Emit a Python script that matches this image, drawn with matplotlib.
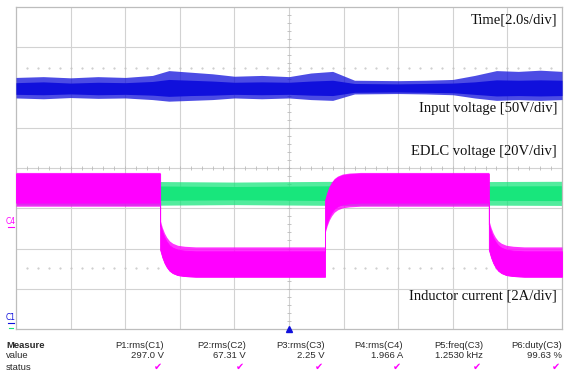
import numpy as np
import matplotlib.pyplot as plt

# screen is 10 x 8 divisions, 2.0 s/div
N_XDIV, N_YDIV = 10, 8

# input voltage (blue) band, in divisions
blue_x = [0, 0.5, 1, 1.5, 2, 2.5, 2.8, 3.2, 3.6, 4, 4.5, 5, 5.4, 5.8, 6.2, 7, 7.5, 8, 8.4, 8.8, 9.2, 9.6, 10]
blue_spike_hi = [6.25, 6.27, 6.24, 6.27, 6.25, 6.30, 6.42, 6.38, 6.34, 6.28, 6.30, 6.27, 6.36, 6.40, 6.18, 6.17, 6.18, 6.20, 6.30, 6.42, 6.40, 6.43, 6.40]
blue_core_hi = [6.12, 6.14, 6.11, 6.13, 6.12, 6.15, 6.20, 6.18, 6.16, 6.13, 6.14, 6.13, 6.16, 6.18, 6.10, 6.09, 6.10, 6.11, 6.14, 6.19, 6.18, 6.19, 6.18]
blue_core_lo = [5.83, 5.82, 5.84, 5.82, 5.83, 5.81, 5.78, 5.80, 5.81, 5.83, 5.82, 5.83, 5.81, 5.80, 5.88, 5.89, 5.88, 5.87, 5.83, 5.79, 5.80, 5.79, 5.80]
blue_spike_lo = [5.74, 5.72, 5.75, 5.73, 5.74, 5.70, 5.66, 5.68, 5.70, 5.74, 5.72, 5.74, 5.70, 5.68, 5.84, 5.85, 5.84, 5.82, 5.74, 5.68, 5.70, 5.68, 5.70]

# EDLC voltage (green) band
green_x = [0, 2, 4, 6, 8, 10]
green_spike_hi = [3.66, 3.67, 3.65, 3.67, 3.66, 3.67]
green_core_hi = [3.55, 3.56, 3.54, 3.56, 3.55, 3.56]
green_core_lo = [3.20, 3.19, 3.21, 3.19, 3.20, 3.19]
green_spike_lo = [3.08, 3.07, 3.09, 3.07, 3.08, 3.07]

# inductor current (magenta): switching instants and levels
switch_x = [0, 2.64, 5.66, 8.66, 10]
switch_state = ['high', 'low', 'high', 'low']
mag_high = {'spike_hi': 3.89, 'core_hi': 3.86, 'core_lo': 3.14, 'spike_lo': 3.05}
mag_low = {'spike_hi': 2.04, 'core_hi': 1.93, 'core_lo': 1.30, 'spike_lo': 1.29}
# settling after each step (div after step, div offset toward previous level)
trans_dt = [0, 0.04, 0.08, 0.12, 0.17, 0.23, 0.32, 0.45, 0.65]
trans_off = [0.67, 0.48, 0.34, 0.24, 0.15, 0.09, 0.04, 0.015, 0.0]

# measurement table
meas_names = ['P1:rms(C1)', 'P2:rms(C2)', 'P3:rms(C3)', 'P4:rms(C4)', 'P5:freq(C3)', 'P6:duty(C3)']
meas_values = ['297.0 V', '67.31 V', '2.25 V', '1.966 A', '1.2530 kHz', '99.63 %']

labels = [('Time[2.0s/div]', 0.960), ('Input voltage [50V/div]', 0.686),
          ('EDLC voltage [20V/div]', 0.550), ('Inductor current [2A/div]', 0.102)]

BLUE = '#1010dc'
GREEN = '#18e67c'
MAGENTA = '#ff00ff'
GRID = '#d2d2d2'


def magenta_band():
    xs, bands = [], {k: [] for k in mag_high}
    for i, state in enumerate(switch_state):
        x0, x1 = switch_x[i], switch_x[i + 1]
        lev = mag_high if state == 'high' else mag_low
        sign = -1 if state == 'high' else 1
        if i == 0:
            pts = [(x0, 0.0)]
        else:
            pts = [(x0 + d, o) for d, o in zip(trans_dt, trans_off) if x0 + d < x1]
        pts.append((x1, 0.0))
        for x, o in pts:
            xs.append(x)
            for k in bands:
                bands[k].append(lev[k] + sign * o)
    return xs, bands


fig = plt.figure(figsize=(5.68, 3.71), dpi=100)
ax = fig.add_axes([16 / 568, 42 / 371, 546 / 568, 322 / 371])
ax.set_xlim(0, N_XDIV)
ax.set_ylim(0, N_YDIV)
ax.set_xticks([])
ax.set_yticks([])
for s in ax.spines.values():
    s.set_color('#bdbdbd')
    s.set_linewidth(0.9)

for gx in range(1, N_XDIV):
    ax.axvline(gx, color=GRID, lw=0.8, zorder=0)
for gy in range(1, N_YDIV):
    ax.axhline(gy, color=GRID, lw=0.8, zorder=0)

# minor ticks on the centre lines
mt_y = np.arange(0.2, N_YDIV, 0.2)
mt_x = np.arange(0.2, N_XDIV, 0.2)
ax.plot(np.full(len(mt_y), 5), mt_y, ls='none', marker='_', ms=3, mew=0.6, color='#bbbbbb', zorder=1)
ax.plot(mt_x, np.full(len(mt_x), 4), ls='none', marker='|', ms=3, mew=0.6, color='#bbbbbb', zorder=1)

# dotted reference rows
for ry in [6.48, 1.52]:
    ax.plot(mt_x, np.full(len(mt_x), ry), ls='none', marker='.', ms=1.0, color='#c4c4c4', zorder=1)

ax.fill_between(green_x, green_spike_lo, green_spike_hi, color=GREEN, alpha=0.75, lw=0, zorder=2)
ax.fill_between(green_x, green_core_lo, green_core_hi, color=GREEN, lw=0, zorder=2)

mx, mb = magenta_band()
ax.fill_between(mx, mb['spike_lo'], mb['spike_hi'], color=MAGENTA, alpha=0.8, lw=0, zorder=3)
ax.fill_between(mx, mb['core_lo'], mb['core_hi'], color=MAGENTA, lw=0.6, edgecolor=MAGENTA, zorder=3)

ax.fill_between(blue_x, blue_spike_lo, blue_spike_hi, color=BLUE, alpha=0.75, lw=0, zorder=3)
ax.fill_between(blue_x, blue_core_lo, blue_core_hi, color=BLUE, lw=0, zorder=3)

for txt, ty in labels:
    ax.text(0.991, ty, txt, transform=ax.transAxes, ha='right', va='center',
            fontsize=10.5, family='Liberation Serif', color='#111111', zorder=5)

# trigger position marker
ax.plot([5], [0], marker='^', ms=5, color=BLUE, clip_on=False, zorder=6)

# channel markers on the left
fig.text(11 / 568, 1 - 222 / 371, 'C4', fontsize=5.5, color=MAGENTA, ha='center', va='center')
fig.lines.append(plt.Line2D([8 / 568, 14 / 568], [1 - 227 / 371] * 2, color=MAGENTA, lw=0.8, transform=fig.transFigure))
fig.text(11 / 568, 1 - 318 / 371, 'C1', fontsize=5.5, color=BLUE, ha='center', va='center')
fig.lines.append(plt.Line2D([8 / 568, 14 / 568], [1 - 323 / 371] * 2, color=BLUE, lw=0.8, transform=fig.transFigure))
fig.lines.append(plt.Line2D([9 / 568, 13 / 568], [1 - 328 / 371] * 2, color=GREEN, lw=0.8, transform=fig.transFigure))

# measurement table
col_right = [164, 246, 325, 403, 483, 562]
row_y = [345, 356, 367]
tkw = dict(fontsize=6.8, family='Liberation Sans', color='#2a2a2a', va='center')
fig.text(6 / 568, 1 - row_y[0] / 371, 'Measure', fontweight='bold', ha='left', **tkw)
fig.text(6 / 568, 1 - row_y[1] / 371, 'value', ha='left', **tkw)
fig.text(6 / 568, 1 - row_y[2] / 371, 'status', ha='left', **tkw)
for cr, nm, val in zip(col_right, meas_names, meas_values):
    fig.text(cr / 568, 1 - row_y[0] / 371, nm, ha='right', **tkw)
    fig.text(cr / 568, 1 - row_y[1] / 371, val, ha='right', **tkw)
    fig.text((cr - 2) / 568, 1 - row_y[2] / 371, '\u2714', ha='right', va='center',
             fontsize=7, family='DejaVu Sans', color=MAGENTA)

fig.savefig('out.png', dpi=100)
